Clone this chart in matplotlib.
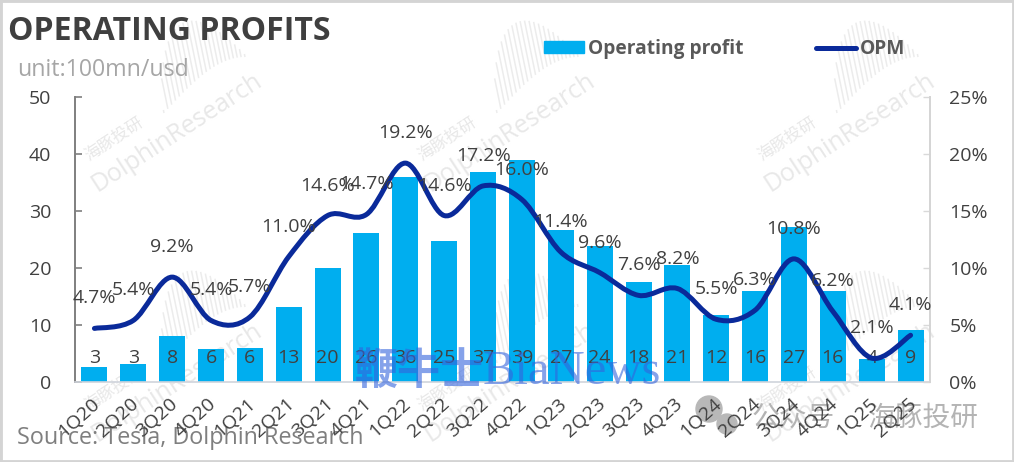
import numpy as np, matplotlib
matplotlib.use("Agg")
import matplotlib.pyplot as plt
from matplotlib.path import Path
from matplotlib.patches import PathPatch, Patch, Rectangle, Circle
from matplotlib.lines import Line2D
from matplotlib.collections import LineCollection
from matplotlib.transforms import ScaledTranslation

quarters = ["1Q20","2Q20","3Q20","4Q20","1Q21","2Q21","3Q21","4Q21","1Q22","2Q22","3Q22","4Q22",
            "1Q23","2Q23","3Q23","4Q23","1Q24","2Q24","3Q24","4Q24","1Q25","2Q25"]
profit = [2.7,3.2,8.0,5.8,5.9,13.2,20.0,26.1,35.9,24.8,36.9,38.9,26.7,23.9,17.6,20.6,11.7,16.0,27.2,15.9,4.0,9.2]
opm = [4.7,5.4,9.2,5.4,5.7,11.0,14.6,14.7,19.2,14.6,17.2,16.0,11.4,9.6,7.6,8.2,5.5,6.3,10.8,6.2,2.1,4.1]

W, H = 1014, 462
BAR = "#00aeef"
LINE = "#0a2a9a"
TXT = "#404040"
WM = "#e8e8e8"
FONT = ["Open Sans", "Noto Sans CJK SC", "DejaVu Sans"]
plt.rcParams["font.family"] = FONT

def fx(x): return x / W
def fy(y): return 1 - y / H

fig = plt.figure(figsize=(W/100, H/100), dpi=100, facecolor="white")
fig.add_artist(Rectangle((0,0), 1, 1, transform=fig.transFigure, fill=False, ec="#d4d4d4", lw=3.5, zorder=20))

# filigrane de fond : texte + éventail de traits
t = np.linspace(0, 1, 22)
for cy in [130, 380]:
    for cx in [177, 510, 850]:
        fig.text(fx(cx), fy(cy+3), "DolphinResearch", rotation=33, ha="center", va="center",
                 fontsize=18, color=WM, zorder=0)
        fig.text(fx(cx-63), fy(cy+10), "海豚投研", rotation=33, ha="center", va="center",
                 fontsize=12, color=WM, zorder=0)
        bx = cx - 13 + 81*t
        by = cy - 17 - 56*np.sin(t*np.pi/2)
        ln = 58*np.sin(np.pi*t**0.6) + 3
        segs = [[(fx(a), fy(b)), (fx(a - 0.2*l), fy(b - 0.98*l))] for a, b, l in zip(bx, by, ln)]
        fig.add_artist(LineCollection(segs, colors="#ececec", linewidths=1.1, transform=fig.transFigure, zorder=0))

ax = fig.add_axes([fx(75), fy(382), (930-75)/W, (382-97)/H], zorder=1)
ax.patch.set_alpha(0)
x = np.arange(len(quarters))
ax.bar(x, profit, width=0.67, color=BAR, zorder=2)
ax.set_xlim(-0.5, len(quarters)-0.5)
ax.set_ylim(0, 50)
ax.set_yticks(range(0, 51, 10))
ax.set_xticks(x)
ax.set_xticklabels(quarters, rotation=42, ha="right", rotation_mode="anchor", fontsize=14, color=TXT)
ax.tick_params(axis="x", length=0, pad=9)
shift = ScaledTranslation(-3/100, 0, fig.dpi_scale_trans)
for lab in ax.get_xticklabels():
    lab.set_transform(lab.get_transform() + shift)
ax.tick_params(axis="y", direction="in", length=5, width=1.2, color="#7f7f7f", pad=17, labelsize=14, labelcolor=TXT)
for s in ["top", "right"]:
    ax.spines[s].set_visible(False)
ax.spines["left"].set_color("#7f7f7f")
ax.spines["left"].set_linewidth(1.4)
ax.spines["bottom"].set_color("#d0d4dc")
ax.spines["bottom"].set_linewidth(1.2)
for i, v in enumerate(profit):
    ax.annotate(f"{v:.0f}", (i, 0), xytext=(0, 17.3), textcoords="offset points",
                ha="center", va="center", fontsize=14, color=TXT, zorder=3)

ax2 = ax.twinx()
ax2.set_zorder(2)
ax2.patch.set_alpha(0)
ax2.set_ylim(0, 25)
ax2.set_yticks(range(0, 26, 5))
ax2.set_yticklabels([f"{v}%" for v in range(0, 26, 5)])
ax2.tick_params(axis="y", direction="in", length=5, width=1, color="#d9d9d9", pad=14, labelsize=14, labelcolor=TXT)
for s in ["top", "left", "bottom"]:
    ax2.spines[s].set_visible(False)
ax2.spines["right"].set_color("#d4d4d4")
ax2.spines["right"].set_linewidth(1.4)

# courbe lissée façon Excel (Catmull-Rom)
pts = np.column_stack([x, opm])
verts = [pts[0]]
for i in range(len(pts)-1):
    p0 = pts[max(i-1, 0)]; p1 = pts[i]; p2 = pts[i+1]; p3 = pts[min(i+2, len(pts)-1)]
    verts += [p1 + (p2-p0)/6, p2 - (p3-p1)/6, p2]
codes = [Path.MOVETO] + [Path.CURVE4]*(len(verts)-1)
ax2.add_patch(PathPatch(Path(verts, codes), fill=False, ec=LINE, lw=3.6, capstyle="round", zorder=3))
for i, v in enumerate(opm):
    ax2.annotate(f"{v:.1f}%", (i, v), xytext=(0, 21.6), textcoords="offset points",
                 ha="center", va="center", fontsize=14, color=TXT, zorder=4)

fig.text(fx(8), fy(31), "OPERATING PROFITS", fontsize=23, fontweight="bold", color="#3f3f3f", va="center", zorder=5)
fig.text(fx(17), fy(70), "unit:100mn/usd", fontsize=16.7, color="#a6a6a6", va="center", zorder=5)
fig.text(fx(17), fy(438), "Source: Tesla, Dolphin Research", fontsize=16.8, color="#7f7f7f", va="center", zorder=0.5)

handles = [Patch(color=BAR, label="Operating profit"), Line2D([], [], color=LINE, lw=3.6, solid_capstyle="round", label="OPM")]
fig.legend(handles=handles, ncols=2, loc="center left", bbox_to_anchor=(fx(544), fy(49)), frameon=False,
           prop={"size": 13.75, "weight": "bold"}, labelcolor="#595959", handlelength=2.1, handleheight=0.6,
           handletextpad=0.2, columnspacing=3.8, borderpad=0, borderaxespad=0)

# filigranes par-dessus
fig.text(fx(355), fy(384), "鞭牛士", fontsize=31, fontweight="bold", fontfamily=["Noto Sans CJK SC"], color="#3464dc", alpha=0.6,
         va="baseline", zorder=10)
fig.text(fx(483), fy(384), "BiaNews", fontsize=35, fontfamily=["Liberation Serif"], color="#3464dc", alpha=0.6,
         va="baseline", zorder=10)
for c, r in [((709, 409), 13), ((727, 424), 10)]:
    fig.add_artist(Circle((c[0], H - c[1]), r, transform=None, color="#b8b8b8", zorder=0.5))
fig.text(fx(752), fy(419), "公众号", fontsize=20, color="#b4b4b4", va="center", zorder=0.5)
fig.text(fx(868), fy(419), "海豚投研", fontsize=20, color="#b4b4b4", va="center", zorder=0.5)

fig.savefig("out.png", dpi=100)
